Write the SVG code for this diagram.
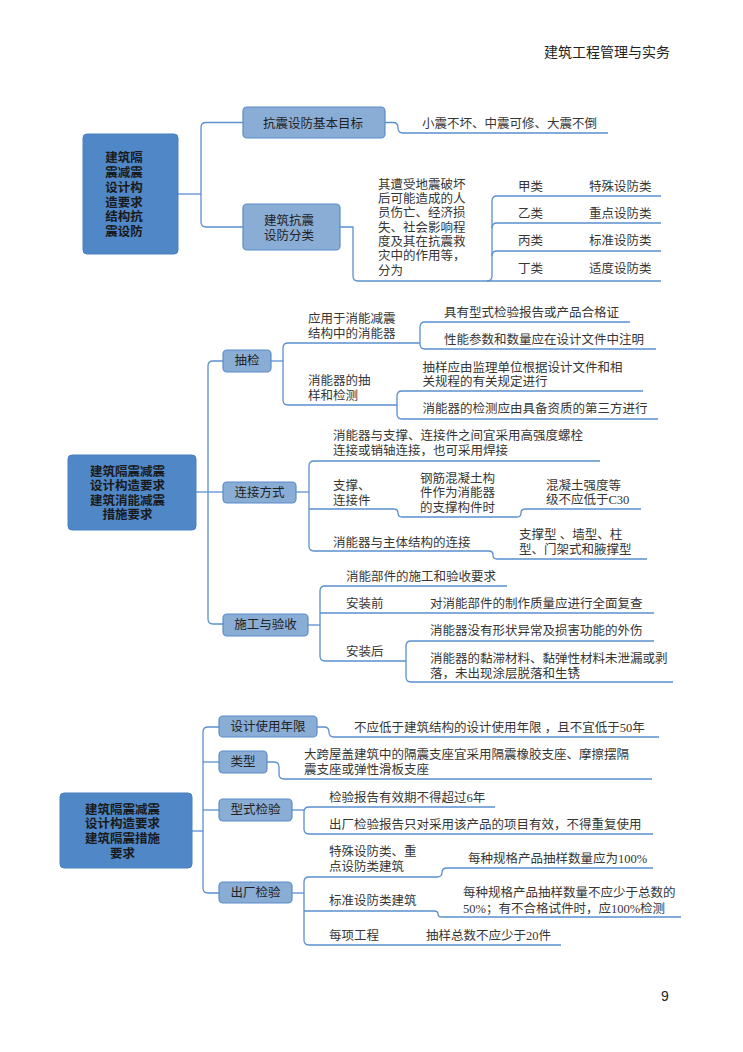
<svg xmlns="http://www.w3.org/2000/svg" width="743" height="1052" viewBox="0 0 743 1052">
<style>
text{font-family:"Liberation Serif","Noto Sans CJK SC",serif;font-size:12.5px;fill:#363636;dominant-baseline:central}
.h{font-family:"Noto Sans CJK SC",sans-serif;font-size:14px;fill:#222}
.pg{font-family:"Liberation Sans",sans-serif;font-size:14px;fill:#222}
.bt{text-anchor:middle;fill:#222}
.rt{text-anchor:middle;font-weight:bold;fill:#1a1a1a}
.root{fill:#4f87c7;stroke:#4a80bf;stroke-width:1}
.box{fill:#8aadd6;stroke:#5b8cc9;stroke-width:1.2}
#connectors path{fill:none;stroke:#5a8fd0;stroke-width:1.3}
</style>
<rect width="743" height="1052" fill="#fff"/>
<text class="h" x="544" y="51">建筑工程管理与实务</text>
<text class="pg" x="665" y="996" text-anchor="middle">9</text>

<g id="connectors">
<!-- section 1 -->
<path d="M178,194 H201"/>
<path d="M243,122.5 H206 Q201,122.5 201,127.5 V222 Q201,227 206,227 H243"/>
<path d="M385,122.5 H393 Q398,122.5 398,127.5 V128 Q398,133 403,133 H608"/>
<path d="M340,227 H353 V276 Q353,281 358,281 H661"/>
<path d="M487,281 Q492,281 492,276 V201 Q492,196 497,196 H661"/>
<path d="M492,228 Q492,223 497,223 H661"/>
<path d="M492,256 Q492,251 497,251 H661"/>
<!-- section 2 -->
<path d="M196,492 H223"/>
<path d="M223,361 H213 Q208,361 208,366 V619 Q208,624 213,624 H223"/>
<path d="M271,361 H283"/>
<path d="M420,343 H288 Q283,343 283,348 V400 Q283,405 288,405 H397"/>
<path d="M630,322 H425 Q420,322 420,327 V344 Q420,349 425,349 H656"/>
<path d="M643,391 H402 Q397,391 397,396 V414 Q397,419 402,419 H658"/>
<path d="M296,492 H309"/>
<path d="M600,461 H314 Q309,461 309,466 V546 Q309,551 314,551 H489 Q493,551 493,555 Q493,559 497,559 H647"/>
<path d="M309,509 H394 Q398,509 398,513 Q398,517 402,517 H517 Q521,517 521,513 Q521,509 525,509 H641"/>
<path d="M308,625 H320"/>
<path d="M507,586 H325 Q320,586 320,591 V656 Q320,661 325,661 H406"/>
<path d="M320,613 H654"/>
<path d="M654,641 H411 Q406,641 406,646 V677 Q406,682 411,682 H673"/>
<!-- section 3 -->
<path d="M192,831 H203"/>
<path d="M219,727 H208 Q203,727 203,732 V888 Q203,893 208,893 H219"/>
<path d="M203,762 H219"/>
<path d="M203,810 H219"/>
<path d="M317,727 H324 Q329,727 329,732 Q329,737 334,737 H659"/>
<path d="M267,762 H274 Q279,762 279,767 V774 Q279,779 284,779 H652"/>
<path d="M292,810 H304"/>
<path d="M495,807 H309 Q304,807 304,812 V829 Q304,834 309,834 H653"/>
<path d="M292,893 H304"/>
<path d="M437,877 H309 Q304,877 304,882 V940 Q304,945 309,945 H561"/>
<path d="M437,877 Q442,877 442,872.5 Q442,868 447,868 H653"/>
<path d="M304,911 H434 Q438,911 438,914 Q438,917 442,917 H681"/>
</g>

<!-- Section 1 -->
<g id="root1">
<rect class="root" x="83" y="134" width="95" height="120" rx="4"/>
<text class="rt" x="124"><tspan x="124" y="158">建筑隔</tspan><tspan x="124" y="173">震减震</tspan><tspan x="124" y="188">设计构</tspan><tspan x="124" y="202.5">造要求</tspan><tspan x="124" y="217">结构抗</tspan><tspan x="124" y="232">震设防</tspan></text>
</g>
<g id="n-goal">
<rect class="box" x="243" y="107" width="142" height="31" rx="4"/>
<text class="bt" x="313" y="124">抗震设防基本目标</text>
</g>
<g id="n-goal-leaf"><text x="422" y="124">小震不坏、中震可修、大震不倒</text></g>
<g id="n-class">
<rect class="box" x="243" y="204" width="97" height="46" rx="4"/>
<text class="bt"><tspan x="289" y="221">建筑抗震</tspan><tspan x="289" y="235.5">设防分类</tspan></text>
</g>
<g id="n-class-desc"><text><tspan x="378" y="184.5">其遭受地震破坏</tspan><tspan x="378" y="199">后可能造成的人</tspan><tspan x="378" y="213">员伤亡、经济损</tspan><tspan x="378" y="227.5">失、社会影响程</tspan><tspan x="378" y="242">度及其在抗震救</tspan><tspan x="378" y="256">灾中的作用等，</tspan><tspan x="378" y="270.5">分为</tspan></text></g>
<g id="n-jia"><text x="518" y="187">甲类</text><text x="589" y="187">特殊设防类</text></g>
<g id="n-yi"><text x="518" y="214">乙类</text><text x="589" y="214">重点设防类</text></g>
<g id="n-bing"><text x="518" y="241">丙类</text><text x="589" y="241">标准设防类</text></g>
<g id="n-ding"><text x="518" y="268.5">丁类</text><text x="589" y="268.5">适度设防类</text></g>

<!-- Section 2 -->
<g id="root2">
<rect class="root" x="68" y="455" width="128" height="75" rx="4"/>
<text class="rt"><tspan x="127.5" y="471.5">建筑隔震减震</tspan><tspan x="127.5" y="486">设计构造要求</tspan><tspan x="127.5" y="500.5">建筑消能减震</tspan><tspan x="127.5" y="515">措施要求</tspan></text>
</g>
<g id="n-sample">
<rect class="box" x="223" y="350" width="48" height="22" rx="4"/>
<text class="bt" x="247" y="361">抽检</text>
</g>
<g id="n-sample-a"><text><tspan x="308" y="319">应用于消能减震</tspan><tspan x="308" y="334">结构中的消能器</tspan></text></g>
<g id="n-sample-a1"><text x="444" y="313">具有型式检验报告或产品合格证</text></g>
<g id="n-sample-a2"><text x="444" y="340">性能参数和数量应在设计文件中注明</text></g>
<g id="n-sample-b"><text><tspan x="308" y="381">消能器的抽</tspan><tspan x="308" y="396">样和检测</tspan></text></g>
<g id="n-sample-b1"><text><tspan x="422.5" y="367.5">抽样应由监理单位根据设计文件和相</tspan><tspan x="422.5" y="382">关规程的有关规定进行</tspan></text></g>
<g id="n-sample-b2"><text x="422.5" y="408.5">消能器的检测应由具备资质的第三方进行</text></g>
<g id="n-conn">
<rect class="box" x="223" y="482" width="73" height="21" rx="4"/>
<text class="bt" x="259.5" y="492.5">连接方式</text>
</g>
<g id="n-conn-a"><text><tspan x="333" y="436">消能器与支撑、连接件之间宜采用高强度螺栓</tspan><tspan x="333" y="451">连接或销轴连接，也可采用焊接</tspan></text></g>
<g id="n-conn-b"><text><tspan x="333" y="486">支撑、</tspan><tspan x="333" y="501">连接件</tspan></text></g>
<g id="n-conn-b1"><text><tspan x="420" y="478.5">钢筋混凝土构</tspan><tspan x="420" y="493">件作为消能器</tspan><tspan x="420" y="507.5">的支撑构件时</tspan></text></g>
<g id="n-conn-b2"><text><tspan x="546" y="485.5">混凝土强度等</tspan><tspan x="546" y="500">级不应低于C30</tspan></text></g>
<g id="n-conn-c"><text x="333" y="543">消能器与主体结构的连接</text></g>
<g id="n-conn-c1"><text><tspan x="519" y="535">支撑型 、墙型、柱</tspan><tspan x="519" y="550">型、门架式和腋撑型</tspan></text></g>
<g id="n-build">
<rect class="box" x="223" y="614" width="85" height="22" rx="4"/>
<text class="bt" x="265.5" y="625">施工与验收</text>
</g>
<g id="n-build-a"><text x="346" y="577">消能部件的施工和验收要求</text></g>
<g id="n-build-b"><text x="346" y="603.5">安装前</text><text x="430" y="603.5">对消能部件的制作质量应进行全面复查</text></g>
<g id="n-build-c"><text x="346" y="652">安装后</text></g>
<g id="n-build-c1"><text x="430" y="631">消能器没有形状异常及损害功能的外伤</text></g>
<g id="n-build-c2"><text><tspan x="430" y="659">消能器的黏滞材料、黏弹性材料未泄漏或剥</tspan><tspan x="430" y="674">落，未出现涂层脱落和生锈</tspan></text></g>

<!-- Section 3 -->
<g id="root3">
<rect class="root" x="60" y="793" width="132" height="75" rx="4"/>
<text class="rt"><tspan x="122.5" y="809.5">建筑隔震减震</tspan><tspan x="122.5" y="824">设计构造要求</tspan><tspan x="122.5" y="839">建筑隔震措施</tspan><tspan x="122.5" y="853.5">要求</tspan></text>
</g>
<g id="n-life">
<rect class="box" x="219" y="716" width="98" height="21" rx="4"/>
<text class="bt" x="268" y="727">设计使用年限</text>
</g>
<g id="n-life-leaf"><text x="354" y="728">不应低于建筑结构的设计使用年限 ，且不宜低于50年</text></g>
<g id="n-type">
<rect class="box" x="219" y="751" width="48" height="22" rx="4"/>
<text class="bt" x="243" y="762">类型</text>
</g>
<g id="n-type-leaf"><text><tspan x="304" y="755">大跨屋盖建筑中的隔震支座宜采用隔震橡胶支座、摩擦摆隔</tspan><tspan x="304" y="770">震支座或弹性滑板支座</tspan></text></g>
<g id="n-typetest">
<rect class="box" x="219" y="799" width="73" height="22" rx="4"/>
<text class="bt" x="255.5" y="810">型式检验</text>
</g>
<g id="n-typetest-a"><text x="329" y="798">检验报告有效期不得超过6年</text></g>
<g id="n-typetest-b"><text x="329" y="825">出厂检验报告只对采用该产品的项目有效，不得重复使用</text></g>
<g id="n-factory">
<rect class="box" x="219" y="882" width="73" height="21" rx="4"/>
<text class="bt" x="255.5" y="893">出厂检验</text>
</g>
<g id="n-factory-a"><text><tspan x="329" y="852">特殊设防类、重</tspan><tspan x="329" y="866.5">点设防类建筑</tspan></text><text x="468" y="859">每种规格产品抽样数量应为100%</text></g>
<g id="n-factory-b"><text x="329" y="901">标准设防类建筑</text><text><tspan x="463" y="893">每种规格产品抽样数量不应少于总数的</tspan><tspan x="463" y="908.5">50%；有不合格试件时，应100%检测</tspan></text></g>
<g id="n-factory-c"><text x="329" y="936">每项工程</text><text x="426" y="936">抽样总数不应少于20件</text></g>
</svg>
